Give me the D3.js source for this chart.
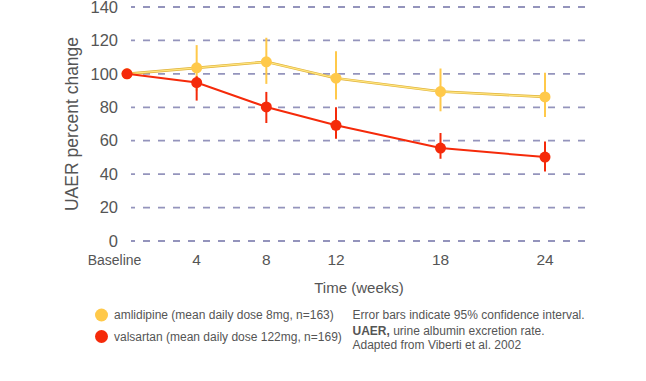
<!DOCTYPE html>
<html><head><meta charset="utf-8">
<script src="https://cdn.jsdelivr.net/npm/d3@7"></script>
<style>body{margin:0;background:#fff;} text{font-family:"Liberation Sans",Arial,sans-serif;}</style>
</head><body>
<svg id="c" width="646" height="381"></svg>
<script>
const weeks = [0, 4, 8, 12, 18, 24];
const weekLabels = ["Baseline", "4", "8", "12", "18", "24"];
const yTicks = [0, 20, 40, 60, 80, 100, 120, 140];
const amlMean = [100, 103.6, 107.2, 97.4, 89.4, 86.2];
const amlLow  = [100, 90, 94, 84.6, 77.6, 74.2];
const amlHigh = [100, 117.2, 121.6, 113.6, 103.2, 100.6];
const valMean = [100, 94.8, 80.2, 69.2, 55.6, 50.2];
const valLow  = [100, 84, 70.6, 61.2, 49.2, 41.6];
const valHigh = [100, 98.6, 89.2, 80, 64.6, 59.6];
const legendLabels = ["amlidipine (mean daily dose 8mg, n=163)", "valsartan (mean daily dose 122mg, n=169)"];

const svg = d3.select("#c");
const x = d3.scaleLinear().domain([0, 24]).range([127, 545]);
const y = d3.scaleLinear().domain([0, 140]).range([241, 7]);

// gridlines
svg.append("g").selectAll("line").data(yTicks).join("line")
  .attr("x1", 131).attr("x2", 587)
  .attr("y1", d => y(d)).attr("y2", d => y(d))
  .attr("stroke", "#9494bc").attr("stroke-width", 1.8)
  .attr("stroke-dasharray", "7,8").attr("stroke-dashoffset", 3);

// y tick labels
svg.append("g").selectAll("text").data(yTicks).join("text")
  .attr("x", 118).attr("y", d => y(d)).attr("dy", "0.35em")
  .attr("text-anchor", "end").attr("font-size", 16.5).attr("fill", "#555")
  .text(d => d);

// x tick labels
svg.append("g").selectAll("text").data(weeks).join("text")
  .attr("x", (d, i) => i === 0 ? 114.5 : x(d)).attr("y", 260).attr("dy", "0.35em")
  .attr("text-anchor", "middle").attr("font-size", (d, i) => i === 0 ? 14 : 15.5).attr("fill", "#555")
  .text((d, i) => weekLabels[i]);

// axis titles
svg.append("text").attr("transform", "translate(78,124) rotate(-90)")
  .attr("text-anchor", "middle").attr("font-size", 17.5).attr("fill", "#555")
  .text("UAER percent change");
svg.append("text").attr("x", 359).attr("y", 288).attr("dy", "0.35em")
  .attr("text-anchor", "middle").attr("font-size", 15).attr("fill", "#555")
  .text("Time (weeks)");

function series(mean, low, high, col, lineCol, edgeCol) {
  const g = svg.append("g");
  const idx = d3.range(weeks.length);
  g.selectAll("line.err").data(idx.filter(i => i > 0)).join("line")
    .attr("x1", i => x(weeks[i])).attr("x2", i => x(weeks[i]))
    .attr("y1", i => y(high[i])).attr("y2", i => y(low[i]))
    .attr("stroke", col).attr("stroke-width", 2);
  const line = d3.line().x(i => x(weeks[i])).y(i => y(mean[i]));
  if (edgeCol) {
    g.append("path").attr("d", line(idx)).attr("fill", "none")
      .attr("stroke", edgeCol).attr("stroke-width", 2.6);
  }
  g.append("path").attr("d", line(idx)).attr("fill", "none")
    .attr("stroke", lineCol).attr("stroke-width", edgeCol ? 1.2 : 2);
  g.selectAll("circle").data(idx).join("circle")
    .attr("cx", i => x(weeks[i])).attr("cy", i => y(mean[i])).attr("r", 5.5)
    .attr("fill", col);
}
series(amlMean, amlLow, amlHigh, "#ffc94a", "#ffe680", "#e0b23a");
series(valMean, valLow, valHigh, "#f52a0a", "#f52a0a", null);

// legend
const legCols = ["#ffc94a", "#f52a0a"];
const lg = svg.append("g");
lg.selectAll("circle").data(legendLabels).join("circle")
  .attr("cx", 101.5).attr("cy", (d, i) => 315 + i * 21.5).attr("r", 6.5)
  .attr("fill", (d, i) => legCols[i]);
lg.selectAll("text").data(legendLabels).join("text")
  .attr("x", 114).attr("y", (d, i) => 315 + i * 21.5).attr("dy", "0.35em")
  .attr("font-size", 12).attr("fill", "#555").text(d => d);

const notes = svg.append("g").attr("font-size", 12).attr("fill", "#555");
notes.append("text").attr("x", 352.5).attr("y", 315).attr("dy", "0.35em")
  .text("Error bars indicate 95% confidence interval.");
const t2 = notes.append("text").attr("x", 352.5).attr("y", 330.5).attr("dy", "0.35em");
t2.append("tspan").attr("font-weight", "bold").text("UAER,");
t2.append("tspan").text(" urine albumin excretion rate.");
notes.append("text").attr("x", 352.5).attr("y", 345).attr("dy", "0.35em")
  .text("Adapted from Viberti et al. 2002");
</script>
</body></html>
